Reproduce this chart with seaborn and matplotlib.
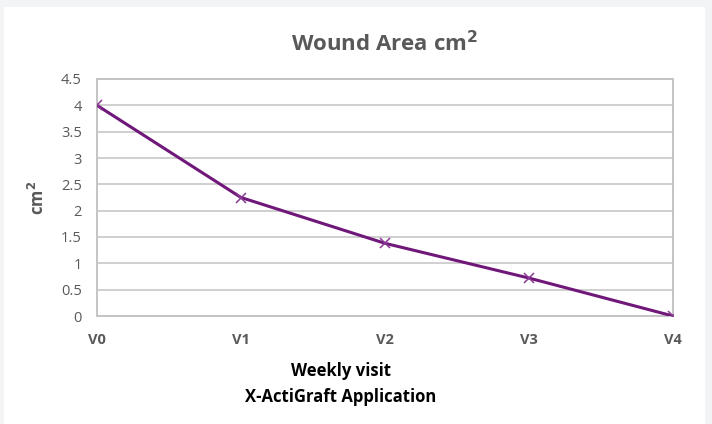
import matplotlib.pyplot as plt
import matplotlib.patches as mpatches
import pandas as pd
import seaborn as sns

# Data
visits = ['V0', 'V1', 'V2', 'V3', 'V4']
area = [4.0, 2.25, 1.38, 0.72, 0.0]
y_ticks = [0, 0.5, 1, 1.5, 2, 2.5, 3, 3.5, 4, 4.5]
y_tick_labels = ['0', '0.5', '1', '1.5', '2', '2.5', '3', '3.5', '4', '4.5']

df = pd.DataFrame({'visit': range(len(visits)), 'area': area})

sns.set_style('white')
plt.rcParams['font.family'] = ['Open Sans', 'DejaVu Sans']

fig = plt.figure(figsize=(7.12, 4.24), dpi=100, facecolor='#f3f4f6')
# white chart panel on the gray page
panel = mpatches.Rectangle((4 / 712, 0), 701 / 712, 1 - 7 / 424,
                           transform=fig.transFigure,
                           facecolor='white', edgecolor='none', zorder=-10)
fig.add_artist(panel)

ax = fig.add_axes([97 / 712, 1 - 316 / 424, 576 / 712, 237 / 424])
ax.set_zorder(5)
ax.set_facecolor('white')

sns.lineplot(df, x='visit', y='area', ax=ax, color='#70177a', linewidth=2.2,
             marker='x', markersize=7, markeredgewidth=1.1,
             markeredgecolor='#8a3a94', zorder=3)

ax.set_xlim(0, len(visits) - 1)
ax.set_ylim(0, 4.5)
ax.set_xticks(range(len(visits)))
ax.set_xticklabels(visits, fontsize=10.5, fontweight='bold', color='#595959')
ax.set_yticks(y_ticks)
ax.set_yticklabels(y_tick_labels, fontsize=10.5, color='#595959')
ax.tick_params(axis='x', length=0, pad=12)
ax.tick_params(axis='y', length=0, pad=11)

ax.grid(axis='y', color='#cfcfcf', linewidth=1.4)
ax.grid(axis='x', visible=False)
for s in ax.spines.values():
    s.set_color('#c4c4c4')
    s.set_linewidth(1.4)

ax.set_title('Wound Area cm$^\\mathbf{2}$', fontsize=16, fontweight='bold',
             color='#595959', pad=20)
ax.set_xlabel('Weekly visit\nX-ActiGraft Application', fontsize=12,
              fontweight='bold', color='black', linespacing=1.6)
ax.xaxis.set_label_coords((341 - 97) / 576, -(406 - 316) / 237)
ax.xaxis.label.set_va('bottom')
ax.set_ylabel('cm$^\\mathbf{2}$', fontsize=12, fontweight='bold', color='#595959')
ax.yaxis.set_label_coords(-(97 - 48) / 576, 0.5)

fig.savefig('out.png', dpi=100, facecolor=fig.get_facecolor())
